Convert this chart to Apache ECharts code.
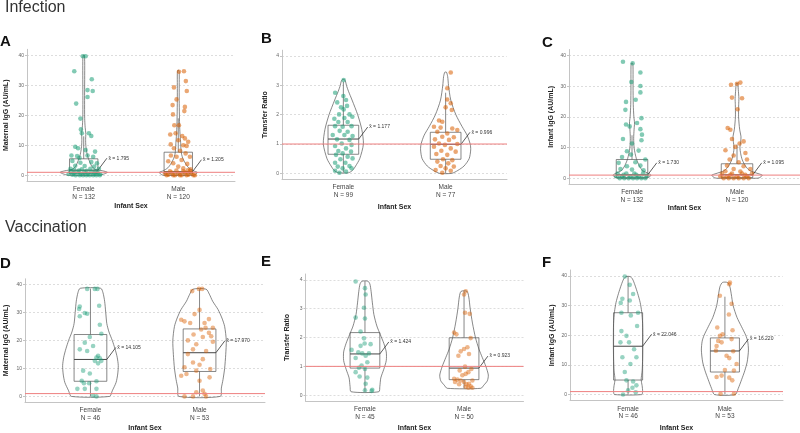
<!DOCTYPE html>
<html><head><meta charset="utf-8">
<script src="https://cdn.jsdelivr.net/npm/echarts@6.0.0/dist/echarts.min.js"></script>
<style>html,body{margin:0;padding:0;background:#fff}#c{width:800px;height:433px}</style>
</head><body><div id="c"></div><script>
const categories = ['Female', 'Male'];
const ticksIgG = [0, 10, 20, 30, 40];
const ticksRatio = [0, 1, 2, 3, 4];
const thresholds = [1, 1, 1, 1, 1, 1];   // red reference line per panel A..F

// N per group
const aN = [132, 120], bN = [99, 77], cN = [132, 120];
const dN = [46, 53], eN = [45, 50], fN = [46, 53];
// centre labels
const aLabel = ['1.795', '1.205'], bLabel = ['1.177', '0.996'], cLabel = ['1.730', '1.095'];
const dLabel = ['14.105', '17.970'], eLabel = ['1.424', '0.923'], fLabel = ['22.046', '16.220'];

// boxes: [lower whisker, q1, median, q3, upper whisker]
const aFemaleBox = [0, 0.5, 1.7, 5.5, 13], aMaleBox = [0, 0.45, 1.2, 7.7, 19];
const bFemaleBox = [0.03, 0.65, 1.17, 1.64, 3.12], bMaleBox = [0, 0.48, 0.99, 1.40, 2.75];
const cFemaleBox = [0, 0.2, 1.1, 6.1, 14], cMaleBox = [0, 0.2, 1.1, 4.7, 11];
const dFemaleBox = [0, 5.4, 13.2, 22.1, 38.5], dMaleBox = [0, 8.9, 15.6, 24.1, 38.3];
const eFemaleBox = [0.12, 0.94, 1.43, 2.17, 3.95], eMaleBox = [0.24, 0.54, 0.94, 1.99, 3.6];
const fFemaleBox = [0, 4.9, 16.3, 27.6, 39.8], fMaleBox = [0, 7.6, 14.7, 19.1, 33];

// violin profiles: [value, half width]
const aFemaleViolin = [[0,0.16],[0.5,0.22],[1.0,0.25],[1.5,0.2],[2,0.12],[3,0.085],[4,0.07],[6,0.045],[8,0.03],[10,0.022],[12,0.02],[14,0.022],[16,0.015],[19,0.01],[25,0.009],[32,0.01],[38,0.01],[40,0.006]];
const aMaleViolin = [[0,0.16],[0.5,0.19],[1.0,0.2],[1.5,0.16],[2.5,0.11],[4,0.075],[5.5,0.05],[7,0.035],[9,0.028],[11,0.025],[13,0.02],[16,0.015],[20,0.012],[25,0.01],[30,0.01],[34,0.01],[35,0.005]];
const bFemaleViolin = [[0.02,0.05],[0.1,0.09],[0.25,0.12],[0.5,0.16],[1.0,0.196],[1.5,0.18],[2.0,0.14],[2.5,0.085],[2.8,0.05],[3.0,0.03],[3.15,0.02],[3.2,0.008]];
const bMaleViolin = [[0,0.06],[0.1,0.12],[0.25,0.18],[0.5,0.23],[0.8,0.245],[1.0,0.24],[1.3,0.21],[1.6,0.16],[2.0,0.1],[2.5,0.05],[3.0,0.028],[3.3,0.02],[3.45,0.008]];
const cFemaleViolin = [[0,0.14],[0.5,0.17],[1.0,0.18],[1.5,0.16],[2.5,0.1],[4,0.07],[6,0.045],[8,0.03],[10,0.02],[13,0.016],[16,0.02],[18,0.024],[20,0.018],[24,0.012],[30,0.01],[35,0.01],[37.5,0.007]];
const cMaleViolin = [[0,0.2],[0.5,0.23],[1.0,0.24],[1.5,0.2],[2.5,0.12],[4,0.08],[6,0.05],[8,0.035],[10,0.028],[12,0.035],[13.5,0.038],[16,0.025],[20,0.015],[24,0.016],[26,0.018],[29,0.012],[31,0.006]];
const dFemaleViolin = [[0,0.175],[2,0.2],[5,0.235],[8,0.25],[11,0.255],[14,0.245],[17,0.225],[20,0.2],[23,0.17],[26,0.15],[30,0.14],[34,0.13],[37,0.115],[38.6,0.095]];
const dMaleViolin = [[0,0.19],[3,0.2],[6,0.215],[10,0.23],[15,0.24],[20,0.245],[25,0.23],[28,0.205],[31,0.17],[34,0.12],[36.5,0.09],[38.3,0.06]];
const eFemaleViolin = [[0.12,0.14],[0.3,0.15],[0.6,0.16],[0.9,0.19],[1.2,0.215],[1.5,0.215],[1.8,0.19],[2.1,0.155],[2.4,0.12],[2.8,0.09],[3.2,0.075],[3.6,0.062],[3.85,0.05],[3.95,0.03]];
const eMaleViolin = [[0.24,0.17],[0.35,0.2],[0.5,0.235],[0.7,0.245],[1.0,0.22],[1.3,0.185],[1.6,0.15],[2.0,0.115],[2.5,0.085],[3.0,0.062],[3.4,0.048],[3.6,0.03]];
const fFemaleViolin = [[0,0.14],[1,0.15],[3,0.145],[5,0.135],[8,0.145],[12,0.15],[18,0.152],[24,0.15],[28,0.14],[31,0.125],[34,0.1],[37,0.07],[39,0.045],[39.8,0.02]];
const fMaleViolin = [[0,0.107],[2,0.137],[5,0.172],[8,0.205],[11,0.23],[15,0.243],[18,0.235],[20,0.215],[23,0.17],[26,0.125],[30,0.085],[34,0.065],[36.5,0.05],[37.8,0.025]];

// jittered points: [horizontal jitter, value]
const aFemalePts = [[-0.01,39.7],[0.02,39.7],[-0.10,34.7],[0.085,32.0],[0.04,28.4],[0.095,28.1],[0.04,26.1],[-0.08,23.9],[-0.035,18.9],[-0.03,15.3],[-0.02,14.0],[0.055,14.0],[0.08,13.1],[-0.09,9.5],[-0.06,9.0],[0.02,8.4],[0.12,7.9],[-0.13,6.6],[-0.07,6.4],[0.04,6.6],[0.1,6.2],[-0.045,5.8],[-0.12,4.8],[-0.035,4.2],[0.08,4.4],[0.14,4.0],[-0.09,3.2],[0.01,3.1],[0.11,2.9],[-0.14,2.2],[-0.02,2.0],[0.07,2.2],[0.16,2.2],[-0.14,1.3],[-0.106,0.66],[-0.063,1.1],[-0.032,0.44],[0.007,1.1],[0.042,0.44],[0.078,1.1],[0.113,0.55],[0.148,0.89],[0.176,0.44],[-0.12,0.22],[-0.085,0],[-0.042,0],[-0.007,0],[0.028,0],[0.063,0],[0.1,0],[0.134,0],[0.17,0],[-0.16,0.44],[-0.05,1.6],[0.03,1.5],[0.12,1.4],[-0.1,1.8]];
const aMalePts = [[0.06,34.7],[0.007,34.5],[0.08,31.4],[-0.046,29.3],[0.09,28.1],[-0.018,25.3],[-0.06,23.4],[0.07,22.8],[0.064,21.4],[-0.056,20.3],[-0.042,16.7],[0.007,16.7],[-0.028,14.0],[-0.085,13.6],[0.042,13.1],[0.07,12.3],[0,11.7],[0.105,11.2],[-0.08,10.3],[0.053,10.0],[0.088,9.8],[-0.046,9.0],[0.02,8.2],[0.078,7.3],[-0.078,6.6],[-0.018,6.2],[0.123,6.2],[0.035,5.1],[-0.106,4.7],[-0.053,4.0],[0.095,3.8],[0,2.9],[0.053,2.3],[0.13,2.0],[-0.14,0.66],[-0.106,0.22],[-0.07,0.89],[-0.035,0],[0,0.66],[0.035,0],[0.07,0.89],[0.106,0.22],[0.14,0.66],[0.176,0],[-0.123,0],[-0.053,0],[0.018,0],[0.088,0],[0.16,0],[-0.088,1.33],[0.053,1.33],[0.123,1.33],[-0.02,1.6],[0.1,1.7]];
const bFemalePts = [[0.003,3.18],[-0.08,2.75],[0,2.64],[-0.06,2.42],[0.026,2.5],[-0.023,2.25],[0.036,2.3],[0.003,2.18],[-0.042,2.01],[0.06,2.01],[-0.088,1.86],[0.01,1.89],[0.088,1.93],[-0.049,1.75],[0.042,1.75],[-0.081,1.61],[-0.007,1.59],[0.08,1.61],[-0.036,1.45],[0.042,1.42],[-0.104,1.31],[0.01,1.31],[0.09,1.27],[-0.062,1.16],[0.06,1.14],[-0.016,1.02],[-0.081,0.93],[0.08,0.97],[0.026,0.85],[-0.049,0.76],[0.075,0.74],[-0.007,0.68],[-0.072,0.63],[0.042,0.57],[-0.029,0.48],[0.09,0.51],[-0.081,0.36],[0.02,0.36],[0.06,0.25],[-0.055,0.23],[-0.007,0.17],[0.08,0.17],[-0.081,0.09],[0.026,0.06],[-0.039,0.02]];
const bMalePts = [[0.05,3.44],[0.016,2.9],[0.016,2.52],[0.05,2.39],[0,2.25],[0.06,2.16],[-0.065,1.8],[-0.033,1.76],[-0.114,1.59],[-0.049,1.56],[0.065,1.53],[0.114,1.48],[-0.081,1.42],[0.016,1.36],[-0.033,1.25],[0.08,1.23],[-0.104,1.16],[0.033,1.14],[-0.065,1.02],[-0.007,0.97],[0.114,1.0],[-0.114,0.91],[0.05,0.85],[-0.042,0.77],[0.098,0.74],[-0.091,0.66],[0.016,0.63],[-0.026,0.48],[0.065,0.45],[-0.081,0.4],[0.026,0.34],[-0.049,0.25],[0.08,0.23],[0,0.17],[-0.098,0.11],[0.05,0.09],[-0.033,0.02]];
const cFemalePts = [[-0.086,38.0],[0.006,37.5],[0.08,34.5],[-0.006,31.4],[0.08,30.1],[0.08,28.0],[0.035,25.6],[-0.057,24.9],[-0.063,22.3],[0.09,19.6],[0.048,18.0],[-0.057,17.5],[-0.022,16.9],[0.08,16.0],[0.095,14.2],[-0.086,12.8],[0.09,12.4],[0,11.3],[-0.048,8.8],[0.063,9.0],[-0.01,7.7],[-0.095,6.9],[0.127,6.1],[-0.127,5.0],[0.032,5.2],[-0.048,3.9],[0.08,4.1],[-0.11,3.0],[0,2.8],[0.11,2.6],[-0.137,1.5],[-0.095,0.65],[-0.054,1.5],[-0.016,0.65],[0.022,1.5],[0.063,0.65],[0.105,1.5],[0.143,0.87],[-0.117,0],[-0.073,0],[-0.032,0],[0.01,0],[0.048,0],[0.089,0],[0.127,0],[-0.08,1.08],[0.041,1.08],[-0.15,0.65]];
const cMalePts = [[-0.057,30.5],[0.032,31.2],[0,30.8],[0.048,26.1],[-0.048,26.3],[0.006,22.5],[-0.089,16.4],[-0.063,15.8],[-0.048,12.8],[0.063,12.0],[-0.016,10.2],[0.025,11.3],[-0.11,9.1],[0.08,8.2],[-0.032,7.4],[-0.07,6.1],[0.095,6.1],[0.016,5.2],[-0.095,4.1],[0.063,3.9],[-0.032,3.0],[0.127,3.0],[-0.143,1.5],[-0.095,0.65],[-0.048,1.5],[0,0.65],[0.048,1.5],[0.095,0.65],[0.143,1.5],[-0.127,0],[-0.079,0],[-0.032,0],[0.016,0],[0.063,0],[0.111,0],[-0.063,1.08],[0.079,1.08],[-0.159,0.65],[0.032,2.17],[-0.111,2.28]];
const dFemalePts = [[-0.03,38.4],[0.04,38.4],[0.064,38.4],[-0.098,32.1],[0.08,32.4],[-0.104,31.2],[-0.052,29.8],[-0.098,28.6],[-0.03,29.5],[0.086,25.6],[0.1,22.4],[-0.006,21.2],[-0.052,19.2],[0.024,18.0],[-0.098,16.8],[-0.03,16.2],[0.07,14.5],[0.055,13.9],[0.086,13.6],[0.04,12.7],[0.1,12.7],[0.07,11.8],[-0.067,9.2],[-0.006,8.2],[-0.08,5.6],[0.055,5.4],[-0.06,4.7],[-0.012,4.7],[-0.12,2.7],[-0.052,2.7],[0.055,2.7],[0.024,0.35],[0.055,0]];
const dMalePts = [[-0.067,37.6],[-0.006,38.4],[0.024,38.4],[0,30.9],[-0.046,29.4],[-0.168,27.4],[-0.138,26.8],[-0.086,26.2],[0.046,26.2],[0.086,27.6],[0.122,24.5],[0.015,23.9],[0.055,24.5],[0.086,22.7],[-0.055,22.1],[0.03,21.2],[0.107,21.5],[-0.107,20.0],[-0.03,18.6],[0.122,19.5],[-0.06,16.8],[-0.107,15.1],[0.06,16.2],[0.03,13.3],[-0.06,12.1],[0,11.3],[-0.138,10.4],[0.098,9.8],[-0.03,9.2],[-0.168,7.4],[-0.12,8.0],[0.092,6.8],[0,5.6],[0.03,2.1],[-0.03,1.5],[0.046,0.9],[-0.138,0],[-0.06,0],[0.06,0]];
const ePtsFemale = [[-0.094,3.94],[0,3.71],[0.007,3.49],[-0.01,3.03],[-0.094,2.69],[0,2.66],[-0.044,2.21],[-0.01,1.97],[-0.003,1.79],[0.057,1.77],[-0.044,1.71],[-0.135,1.57],[-0.067,1.49],[-0.027,1.45],[0.04,1.45],[0.007,1.37],[-0.094,1.29],[0.024,1.14],[-0.034,1.03],[-0.061,0.95],[0,0.91],[-0.094,0.8],[-0.054,0.65],[0.024,0.61],[0.007,0.4],[0.074,0.19],[0,0.17],[0.067,0.15]];
const ePtsMale = [[0.017,3.6],[0,3.49],[0.01,2.86],[0.057,2.82],[-0.1,2.17],[-0.077,2.11],[0.067,1.98],[0.034,1.66],[-0.034,1.52],[0,1.6],[-0.057,1.37],[0.05,1.43],[0.01,0.99],[0.074,0.91],[-0.044,0.86],[0.044,0.8],[-0.017,0.69],[0.017,0.74],[-0.1,0.57],[-0.067,0.54],[-0.034,0.51],[-0.091,0.46],[0,0.46],[0.05,0.4],[0.084,0.51],[-0.05,0.38],[0.024,0.38],[0.067,0.31],[0.017,0.29],[0.044,0.26],[0.084,0.26]];
const fFemalePts = [[-0.034,39.8],[0.017,37.0],[0.052,33.9],[-0.059,32.3],[0.017,31.7],[-0.076,30.9],[-0.069,27.6],[0.103,27.6],[0.028,26.7],[0.093,23.1],[-0.069,21.4],[-0.017,19.8],[-0.079,17.6],[0.01,17.6],[0.062,15.3],[-0.059,12.6],[0.086,12.6],[-0.034,7.6],[0.024,10.3],[0.052,4.4],[0.086,3.1],[0.045,2.3],[0,1.4],[0.079,0.8],[-0.052,0],[-0.017,4.8]];
const fMalePts = [[0.052,37.8],[0.045,37.2],[-0.052,33.3],[0.069,30.6],[0.041,27.0],[-0.079,22.6],[0.079,21.7],[-0.024,20.3],[-0.052,19.8],[0.069,18.7],[-0.069,18.1],[-0.034,17.6],[-0.086,16.4],[-0.093,14.8],[0.086,14.6],[0.017,13.1],[0.045,12.3],[0.121,10.3],[0,8.3],[0.093,8.1],[-0.034,6.4],[-0.086,5.9],[0.045,5.7],[0.076,4.8],[-0.045,0.3],[0.093,0.3]];

const FONT = 'Liberation Sans';
const GROUP_COLORS = ['#1b9e77', '#d95f02'];
const X_MIN = 0.4, X_MAX = 2.6;

const panels = [
  {letter:'A', lt:[0,34.5], grid:{left:27,top:49.3,width:208,height:132}, yMin:-2, yMax:42, ticks:ticksIgG, yName:'Maternal IgG (AU/mL)', yGap:17, xGap:21.5, n:aN, labels:aLabel, boxes:[aFemaleBox,aMaleBox], violins:[aFemaleViolin,aMaleViolin], pts:[aFemalePts,aMalePts], op:0.55},
  {letter:'B', lt:[261,31.5], grid:{left:282,top:50.2,width:225,height:129}, yMin:-0.2, yMax:4.2, ticks:ticksRatio, yName:'Transfer Ratio', yGap:13, xGap:24, n:bN, labels:bLabel, boxes:[bFemaleBox,bMaleBox], violins:[bFemaleViolin,bMaleViolin], pts:[bFemalePts,bMalePts], op:0.55},
  {letter:'C', lt:[542,35.5], grid:{left:569,top:49.5,width:231,height:134.8}, yMin:-2, yMax:42, ticks:ticksIgG, yName:'Infant IgG (AU/mL)', yGap:14.5, xGap:15, n:cN, labels:cLabel, boxes:[cFemaleBox,cMaleBox], violins:[cFemaleViolin,cMaleViolin], pts:[cFemalePts,cMalePts], op:0.55},
  {letter:'D', lt:[0,256.5], grid:{left:25,top:278.8,width:240,height:124.6}, yMin:-2, yMax:42, ticks:ticksIgG, yName:'Maternal IgG (AU/mL)', yGap:15.5, xGap:23, n:dN, labels:dLabel, boxes:[dFemaleBox,dMaleBox], violins:[dFemaleViolin,dMaleViolin], pts:[dFemalePts,dMalePts], op:0.45},
  {letter:'E', lt:[261,254.5], grid:{left:305.5,top:274,width:218,height:128.5}, yMin:-0.2, yMax:4.2, ticks:ticksRatio, yName:'Transfer Ratio', yGap:14.5, xGap:24, n:eN, labels:eLabel, boxes:[eFemaleBox,eMaleBox], violins:[eFemaleViolin,eMaleViolin], pts:[ePtsFemale,ePtsMale], op:0.45},
  {letter:'F', lt:[542,255.5], grid:{left:570,top:270,width:213,height:132}, yMin:-2, yMax:42, ticks:ticksIgG, yName:'Infant IgG (AU/mL)', yGap:14.5, xGap:24.5, n:fN, labels:fLabel, boxes:[fFemaleBox,fMaleBox], violins:[fFemaleViolin,fMaleViolin], pts:[fFemalePts,fMalePts], op:0.45}
];

const BOX_HALF = 0.15;
const OUTLINE = '#555';

function violinRenderer(profile, pos) {
  return function (params, api) {
    const left = profile.map(p => api.coord([pos - p[1], p[0]]));
    const right = profile.slice().reverse().map(p => api.coord([pos + p[1], p[0]]));
    return {type:'polygon', silent:true,
      shape:{points:left.concat(right), smooth:0.25},
      style:{fill:'none', stroke:OUTLINE, lineWidth:0.7}};
  };
}
function boxRenderer(box, pos, label) {
  return function (params, api) {
    const tl = api.coord([pos - BOX_HALF, box[3]]);
    const br = api.coord([pos + BOX_HALF, box[1]]);
    const wTop = api.coord([pos, box[4]]);
    const wBot = api.coord([pos, box[0]]);
    const mL = api.coord([pos - BOX_HALF, box[2]]);
    const mR = api.coord([pos + BOX_HALF, box[2]]);
    const end = [mR[0] + 9, mR[1] - 12];
    const ls = {stroke:OUTLINE, lineWidth:0.7, fill:'none'};
    return {type:'group', silent:true, children:[
      {type:'line', shape:{x1:wTop[0], y1:wTop[1], x2:wTop[0], y2:tl[1]}, style:ls},
      {type:'line', shape:{x1:wBot[0], y1:wBot[1], x2:wBot[0], y2:br[1]}, style:ls},
      {type:'rect', shape:{x:tl[0], y:tl[1], width:br[0]-tl[0], height:br[1]-tl[1]}, style:ls},
      {type:'line', shape:{x1:mL[0], y1:mL[1], x2:mR[0], y2:mR[1]}, style:{stroke:'#444', lineWidth:1}},
      {type:'line', shape:{x1:mR[0], y1:mR[1], x2:end[0], y2:end[1]}, style:{stroke:'#333', lineWidth:0.8}},
      {type:'text', style:{x:end[0]+1.5, y:end[1], text:'x\u0303 = ' + label, fontSize:5, fontFamily:FONT, fill:'#333', verticalAlign:'middle', align:'left'}}
    ]};
  };
}
function thresholdRenderer(value) {
  return function (params, api) {
    const a = api.coord([X_MIN, value]);
    const b = api.coord([X_MAX, value]);
    return {type:'line', silent:true, shape:{x1:a[0], y1:a[1], x2:b[0], y2:b[1]},
      style:{stroke:'#ee7f7f', lineWidth:1, opacity:1}};
  };
}

const grid = [], xAxis = [], yAxis = [], series = [];
const title = [
  {text:'Infection', left:5, top:0, padding:0, textStyle:{fontSize:16, fontWeight:'normal', color:'#333', fontFamily:FONT}},
  {text:'Vaccination', left:5, top:220, padding:0, textStyle:{fontSize:16, fontWeight:'normal', color:'#333', fontFamily:FONT}}
];

panels.forEach((p, i) => {
  title.push({text:p.letter, left:p.lt[0], top:p.lt[1], padding:0, textStyle:{fontSize:15, fontWeight:'bold', color:'#111', fontFamily:FONT}});
  grid.push(Object.assign({containLabel:false}, p.grid));
  xAxis.push({type:'value', gridIndex:i, min:X_MIN, max:X_MAX,
    name:'Infant Sex', nameLocation:'middle', nameGap:p.xGap,
    nameTextStyle:{fontWeight:'bold', fontSize:7, color:'#222', fontFamily:FONT},
    axisLine:{show:true, onZero:false, lineStyle:{color:'#c4c4c4', width:1}},
    axisTick:{show:false}, splitLine:{show:false},
    axisLabel:{customValues:[1,2], fontSize:6.5, lineHeight:7.5, margin:4.5, color:'#444', fontFamily:FONT,
      formatter:v => categories[Math.round(v) - 1] + '\nN = ' + p.n[Math.round(v) - 1]}
  });
  yAxis.push({type:'value', gridIndex:i, min:p.yMin, max:p.yMax,
    name:p.yName, nameLocation:'middle', nameGap:p.yGap,
    nameTextStyle:{fontWeight:'bold', fontSize:7, color:'#222', fontFamily:FONT},
    axisLine:{show:true, onZero:false, lineStyle:{color:'#c4c4c4', width:1}},
    axisTick:{show:true, customValues:p.ticks, length:2, lineStyle:{color:'#c4c4c4'}},
    axisLabel:{customValues:p.ticks, fontSize:5, margin:3, color:'#666', fontFamily:FONT},
    splitLine:{show:true, lineStyle:{type:[2,2], color:'#cfcfcf', width:0.7}}
  });
  for (let g = 0; g < 2; g++) {
    const pos = g + 1;
    series.push({type:'custom', xAxisIndex:i, yAxisIndex:i, z:2, silent:true,
      renderItem:violinRenderer(p.violins[g], pos), data:[[pos, 0]]});
    series.push({type:'custom', xAxisIndex:i, yAxisIndex:i, z:3, silent:true,
      renderItem:boxRenderer(p.boxes[g], pos, p.labels[g]), data:[[pos, 0]]});
    series.push({type:'scatter', xAxisIndex:i, yAxisIndex:i, z:4, silent:true,
      symbolSize:4.6, itemStyle:{color:GROUP_COLORS[g], opacity:p.op},
      data:p.pts[g].map(d => [pos + d[0], d[1]])});
  }
  series.push({type:'custom', xAxisIndex:i, yAxisIndex:i, z:5, silent:true,
    renderItem:thresholdRenderer(thresholds[i]), data:[[1, thresholds[i]]]});
});

const chart = echarts.init(document.getElementById('c'), null, {renderer:'canvas'});
chart.setOption({animation:false, backgroundColor:'#fff', title, grid, xAxis, yAxis, series});
</script></body></html>
